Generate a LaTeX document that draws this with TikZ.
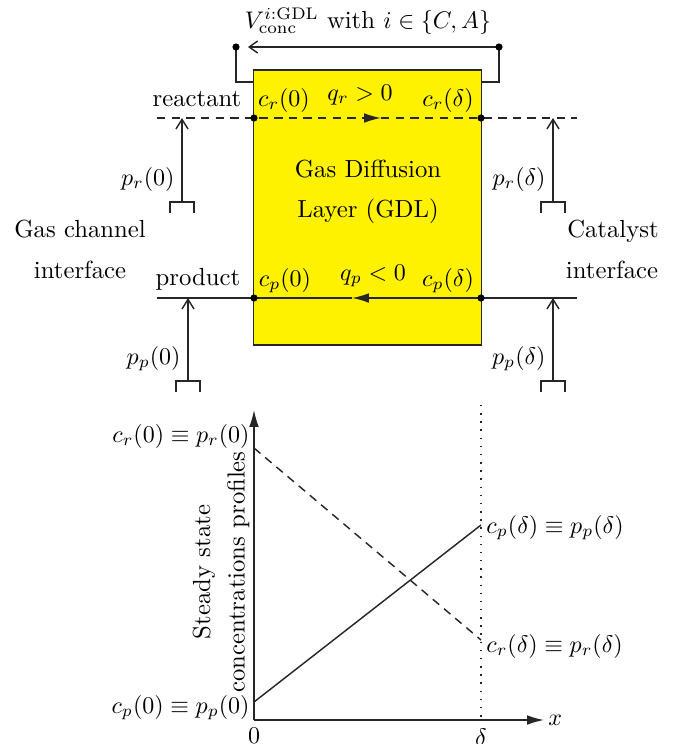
\documentclass[tikz,border=0pt]{standalone}
\usepackage{amsmath}
\usetikzlibrary{arrows.meta}
\begin{document}
\begin{tikzpicture}[x=0.4167pt,y=-0.4167pt,
  every node/.style={font=\fontsize{10.3pt}{12.4pt}\selectfont},
  ln/.style={line width=0.6pt,draw=black!85},
  lbl/.style={inner sep=0pt,anchor=base},
  dot/.style={circle,fill=black,inner sep=0pt,minimum size=3pt},
  parrow/.style={ln,-{Straight Barb[length=4pt,width=5pt]}},
  qarrow/.style={ln,-{Latex[length=7pt,width=4pt]}},
  axarrow/.style={ln,-{Latex[length=7pt,width=4pt]}},
  dsh/.style={ln,dash pattern=on 3.5pt off 2.6pt},
  sensor/.pic={\draw[ln] (-12,11) -- (-12,0) -- (12,0) -- (12,11);}
]
\useasboundingbox (0,0) rectangle (674,744);

% GDL box
\node[ln,draw,fill=yellow,inner sep=0pt,minimum width=95pt,minimum height=114.6pt] (gdl) at (367.5,207.5) {};
\node[lbl] (gd1) at (368,177) {Gas Diffusion};
\node[lbl] (gd2) at (368,217) {Layer (GDL)};

% key points
\coordinate (rs) at (157,118);
\coordinate (re) at (577,118);
\coordinate (ps) at (157,298);
\coordinate (pe) at (577,298);
\coordinate (rl) at (254,118);
\coordinate (rr) at (481,118);
\coordinate (pl) at (254,298);
\coordinate (pr) at (481,298);
\coordinate (qrtip) at (381,118);
\coordinate (qptip) at (352,298);

% reactant / product lines
\draw[qarrow,dsh] (rs) -- (qrtip);
\draw[dsh] (qrtip) -- (re);
\draw[qarrow] (pe) -- (qptip);
\draw[ln] (qptip) -- (ps);
\node[dot] (drl) at (rl) {};
\node[dot] (drr) at (rr) {};
\node[dot] (dpl) at (pl) {};
\node[dot] (dpr) at (pr) {};

% voltage wiring
\coordinate (vl) at (236,47);
\coordinate (vr) at (499,47);
\coordinate (bl) at (254,82);
\coordinate (br) at (481,82);
\draw[ln] (vl) |- (bl);
\draw[ln] (vr) |- (br);
\draw[ln,-{Straight Barb[length=3.5pt,width=5pt]},shorten >=5pt] (vr) -- (vl);
\node[dot] (dvl) at (vl) {};
\node[dot] (dvr) at (vr) {};
\node[lbl] (vlab) at (368,28) {$V_{\mathrm{conc}}^{i:\mathrm{GDL}}$ with $i\in\{C,A\}$};

% labels in the top figure
\node[lbl] (react) at (197,106) {reactant};
\node[lbl] (prod) at (198,285) {product};
\node[lbl] (cr0) at (284,106) {$c_r(0)$};
\node[lbl] (qr) at (360,100) {$q_r>0$};
\node[lbl] (crd) at (448,106) {$c_r(\delta)$};
\node[lbl] (cp0) at (285,286) {$c_p(0)$};
\node[lbl] (qp) at (373,280) {$q_p<0$};
\node[lbl] (cpd) at (448,286) {$c_p(\delta)$};
\node[lbl] (gc1) at (80,237) {Gas channel};
\node[lbl] (gc2) at (80,278) {interface};
\node[lbl] (ca1) at (613,237) {Catalyst};
\node[lbl] (ca2) at (612,278) {interface};

% pressure sensors
\coordinate (s1) at (182,202);
\coordinate (t1) at (182,118);
\coordinate (s2) at (188,381);
\coordinate (t2) at (188,298);
\coordinate (s3) at (553,202);
\coordinate (t3) at (553,118);
\coordinate (s4) at (553,381);
\coordinate (t4) at (553,298);
\pic at (s1) {sensor};
\pic at (s2) {sensor};
\pic at (s3) {sensor};
\pic at (s4) {sensor};
\draw[parrow] (s1) -- (t1);
\draw[parrow] (s2) -- (t2);
\draw[parrow] (s3) -- (t3);
\draw[parrow] (s4) -- (t4);
\node[lbl,anchor=base east] (pr0) at (175,185) {$p_r(0)$};
\node[lbl,anchor=base east] (pp0) at (181,364) {$p_p(0)$};
\node[lbl,anchor=base east] (prd) at (546,185) {$p_r(\delta)$};
\node[lbl,anchor=base east] (ppd) at (546,364) {$p_p(\delta)$};

% profile plot
\coordinate (O) at (254,720);
\coordinate (ytop) at (254,410);
\coordinate (xend) at (544,720);
\coordinate (dtop) at (481,405);
\coordinate (dbot) at (481,720);
\coordinate (a0) at (254,448);
\coordinate (a1) at (481,640);
\coordinate (b0) at (254,702);
\coordinate (b1) at (481,525);
\draw[ln,dash pattern=on 0.6pt off 2.8pt] (dtop) -- (dbot);
\draw[dsh] (a0) -- (a1);
\draw[ln] (b0) -- (b1);
\draw[axarrow] (O) -- (ytop);
\draw[axarrow] (O) -- (xend);
\node[lbl,anchor=base west] (xl) at (548,725) {$x$};
\node[inner sep=0pt,anchor=north] (zero) at (254,728) {$0$};
\node[inner sep=0pt,anchor=north] (del) at (481,728) {$\delta$};
\node[lbl,anchor=base east] (l1) at (250,442) {$c_r(0)\equiv p_r(0)$};
\node[lbl,anchor=base east] (l2) at (250,713) {$c_p(0)\equiv p_p(0)$};
\node[lbl,anchor=base west] (l3) at (486,533) {$c_p(\delta)\equiv p_p(\delta)$};
\node[lbl,anchor=base west] (l4) at (486,652) {$c_r(\delta)\equiv p_r(\delta)$};
\node[rotate=90,align=center,inner sep=0pt] (ylab) at (221,572) {Steady state\\[2pt]concentrations profiles};
\end{tikzpicture}
\end{document}
